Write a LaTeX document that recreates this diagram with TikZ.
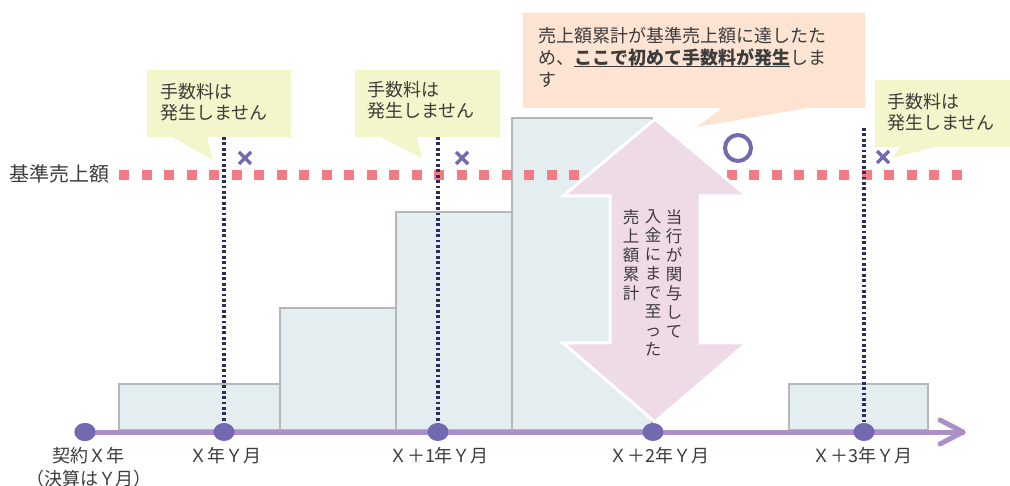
\documentclass[tikz,border=0pt]{standalone}
\usepackage{fontspec}
\setmainfont{Noto Sans CJK JP}
\usetikzlibrary{shapes.geometric}
\definecolor{txt}{HTML}{3C3C3C}
\definecolor{barfill}{HTML}{E4EDF0}
\definecolor{barline}{HTML}{B4B8BB}
\definecolor{refpink}{HTML}{F27B84}
\definecolor{navy}{HTML}{2A2F5E}
\definecolor{yel}{HTML}{F5F5CB}
\definecolor{peach}{HTML}{FDE3D2}
\definecolor{arrowpink}{HTML}{EFDAE7}
\definecolor{purp}{HTML}{7269B0}
\definecolor{axiscol}{HTML}{A990C6}
\newcommand\ulbold[1]{\setbox0\hbox{\bfseries #1}\leavevmode\rlap{\color{txt}\rule[-2.5pt]{\wd0}{1.6pt}}\box0}
\begin{document}
\begin{tikzpicture}[x=1pt,y=-1pt,
  every node/.style={text=txt, inner sep=0pt},
  bar/.style={fill=barfill, draw=barline, line width=1.5pt},
  refline/.style={draw=refpink, line width=10pt, dash pattern=on 10pt off 12.5pt},
  navydot/.style={draw=navy, line width=3.2pt, dash pattern=on 2.8pt off 2.6pt},
  yelcall/.style={fill=yel},
  peachcall/.style={fill=peach},
  bigarrow/.style={fill=arrowpink, draw=white, line width=3pt, line join=miter},
  xmark/.style={draw=purp, line width=3.5pt},
  ring/.style={draw=purp, line width=4pt},
  axisline/.style={draw=axiscol, line width=5pt, line cap=round, line join=round},
  dot/.style={ellipse, fill=purp, minimum width=21pt, minimum height=18pt},
  lbl/.style={font=\fontsize{18}{21}\selectfont, align=left},
  axlbl/.style={font=\fontsize{18}{23}\selectfont, anchor=base},
  vtext/.style={font=\fontsize{16.5}{19}\selectfont, align=center, anchor=north}
]
\useasboundingbox (0,0) rectangle (1010,486);

% bars
\draw[bar] (119,384) rectangle (280,430);
\draw[bar] (280,308) rectangle (396,430);
\draw[bar] (396,212) rectangle (512,430);
\draw[bar] (512,118) rectangle (652,430);
\draw[bar] (789,384) rectangle (928,430);

% reference line
\draw[refline] (119,175) -- (965,175);
\node[font=\fontsize{20}{24}\selectfont, anchor=base west] (reflbl) at (9,182) {基準売上額};

% navy dotted verticals
\draw[navydot] (224,137) -- (224,430);
\draw[navydot] (438,137) -- (438,430);
\draw[navydot] (864,128) -- (864,430);

% callouts
\fill[yelcall] (147,70) -- (291,70) -- (291,137) -- (207,137) -- (213,160) -- (172,137) -- (147,137) -- cycle;
\fill[yelcall] (355,70) -- (500,70) -- (500,137) -- (417,137) -- (422,158) -- (380,137) -- (355,137) -- cycle;
\fill[peachcall] (523,13) -- (865,13) -- (865,108) -- (807,108) -- (697,127) -- (722,108) -- (523,108) -- cycle;
\fill[yelcall] (875,80) -- (1010,80) -- (1010,147) -- (935,147) -- (892,158) -- (900,147) -- (875,147) -- cycle;

\node[lbl, anchor=base west] (c1) at (160,120) {手数料は\\発生しません};
\node[lbl, anchor=base west] (c2) at (367,118) {手数料は\\発生しません};
\node[lbl, anchor=base west] (c4) at (887,130) {手数料は\\発生しません};
\node[font=\fontsize{18}{22}\selectfont, align=left, anchor=base west] (c3) at (538,87)
  {売上額累計が基準売上額に達したた\\め、\ulbold{ここで初めて手数料が発生}しま\\す};

% big double arrow
\filldraw[bigarrow] (655,119) -- (747,196) -- (700,196) -- (700,343) -- (747,343) -- (655,422)
  -- (563,343) -- (610,343) -- (610,196) -- (563,196) -- cycle;
\node[vtext] (v1) at (674,209) {当\\行\\が\\関\\与\\し\\て};
\node[vtext] (v2) at (653,209) {入\\金\\に\\ま\\で\\至\\っ\\た};
\node[vtext] (v3) at (631,209) {売\\上\\額\\累\\計};

% marks
\draw[ring] (738,148) circle (13pt);
\draw[xmark] (239,152) -- (251,164) (239,164) -- (251,152);
\draw[xmark] (456,152) -- (468,164) (456,164) -- (468,152);
\draw[xmark] (877,151) -- (889,163) (877,163) -- (889,151);

% axis
\coordinate (axend) at (963,432);
\node[dot] (d0) at (85,432) {};
\draw[axisline] (d0.center) -- (axend);
\draw[axisline] (axend) ++(-23,-12) -- (axend) -- ++(-23,12);
\node[dot] (d0) at (85,432) {};
\node[dot] (d1) at (224,432) {};
\node[dot] (d2) at (438,432) {};
\node[dot] (d3) at (653,432) {};
\node[dot] (d4) at (864,432) {};

% axis labels
\node[axlbl, align=center] (l0) at (89,485) {契約Ｘ年\\（決算はＹ月）};
\node[axlbl] (l1) at (225,462) {Ｘ年Ｙ月};
\node[axlbl] (l2) at (439,462) {Ｘ＋1年Ｙ月};
\node[axlbl] (l3) at (659,462) {Ｘ＋2年Ｙ月};
\node[axlbl] (l4) at (862,462) {Ｘ＋3年Ｙ月};
\end{tikzpicture}
\end{document}
